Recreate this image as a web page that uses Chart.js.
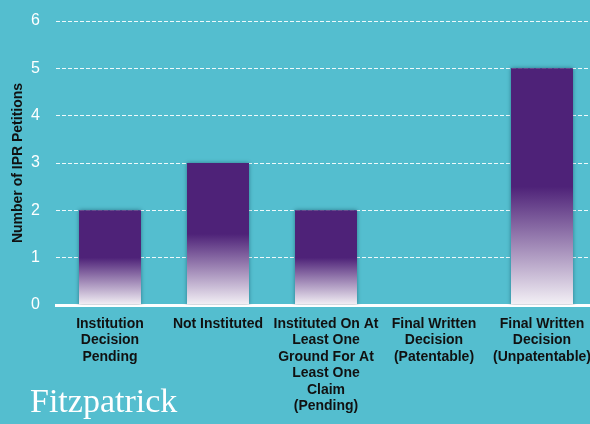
<!DOCTYPE html>
<html>
<head>
<meta charset="utf-8">
<script src="https://cdn.jsdelivr.net/npm/chart.js@4/dist/chart.umd.min.js"></script>
<style>
  html, body { margin: 0; padding: 0; overflow: hidden; background: #54BECF; }
  #wrap { position: relative; width: 590px; height: 424px; overflow: hidden; }
  #brand {
    position: absolute; left: 30px; top: 384px;
    font-family: "Liberation Serif", "DejaVu Serif", serif;
    font-size: 34px; line-height: 34px; color: #ffffff;
  }
</style>
</head>
<body>
<div id="wrap">
  <canvas id="iprChart" width="600" height="424"></canvas>
  <div id="brand">Fitzpatrick</div>
</div>
<script>
// chart data
const categories = [
  ["Institution", "Decision", "Pending"],
  ["Not Instituted"],
  ["Instituted On At", "Least One", "Ground For At", "Least One", "Claim", "(Pending)"],
  ["Final Written", "Decision", "(Patentable)"],
  ["Final Written", "Decision", "(Unpatentable)"]
];
const petitions = [2, 3, 2, 0, 5];
const yTicks = [0, 1, 2, 3, 4, 5, 6];

const purple = "#4E2278";
const paleBottom = "#F4F1F6";

// vertical fade per bar: pale at the base, solid purple from mid-height up
function barFill(context) {
  const chart = context.chart;
  if (!chart.chartArea || context.type !== "data") return purple;
  const yScale = chart.scales.y;
  const value = context.dataset.data[context.dataIndex];
  const top = yScale.getPixelForValue(value);
  const base = yScale.getPixelForValue(0);
  if (top === base) return purple;
  const g = chart.ctx.createLinearGradient(0, base, 0, top);
  g.addColorStop(0, paleBottom);
  g.addColorStop(0.5, purple);
  g.addColorStop(1, purple);
  return g;
}

// soft shadow around the bars
const barShadow = {
  id: "barShadow",
  beforeDatasetsDraw(chart) {
    const ctx = chart.ctx;
    ctx.save();
    ctx.shadowColor = "rgba(0, 40, 60, 0.45)";
    ctx.shadowBlur = 4;
  },
  afterDatasetsDraw(chart) {
    chart.ctx.restore();
  }
};

const ctx = document.getElementById("iprChart").getContext("2d");
new Chart(ctx, {
  type: "bar",
  data: {
    labels: categories,
    datasets: [{
      data: petitions,
      backgroundColor: barFill,
      borderWidth: 0,
      barPercentage: 0.574,
      categoryPercentage: 1
    }]
  },
  options: {
    responsive: false,
    animation: false,
    layout: { padding: { left: 10, top: 21, right: 4, bottom: 0 } },
    plugins: {
      legend: { display: false },
      tooltip: { enabled: false }
    },
    scales: {
      x: {
        grid: { display: false },
        border: { display: true, color: "#ffffff", width: 3 },
        ticks: {
          autoSkip: false,
          maxRotation: 0,
          minRotation: 0,
          padding: 3,
          color: "#111111",
          font: { family: "Liberation Sans, Arial, sans-serif", size: 14, weight: "bold", lineHeight: 1.17 }
        },
        afterFit(scale) { scale.height = 119; }
      },
      y: {
        min: 0,
        max: 6,
        afterBuildTicks(scale) { scale.ticks = yTicks.map(v => ({ value: v })); },
        grid: {
          color: "rgba(255,255,255,0.9)",
          lineWidth: 1,
          drawTicks: true,
          tickLength: 11,
          tickColor: "rgba(0,0,0,0)"
        },
        border: { display: false, dash: [4, 2] },
        ticks: {
          padding: 5,
          color: "#ffffff",
          font: { family: "Liberation Sans, Arial, sans-serif", size: 16 }
        },
        title: {
          display: true,
          text: "Number of IPR Petitions",
          color: "#111111",
          padding: 0,
          font: { family: "Liberation Sans, Arial, sans-serif", size: 14, weight: "bold" }
        },
        afterFit(scale) { scale.width = 46; }
      }
    }
  },
  plugins: [barShadow]
});
</script>
</body>
</html>
